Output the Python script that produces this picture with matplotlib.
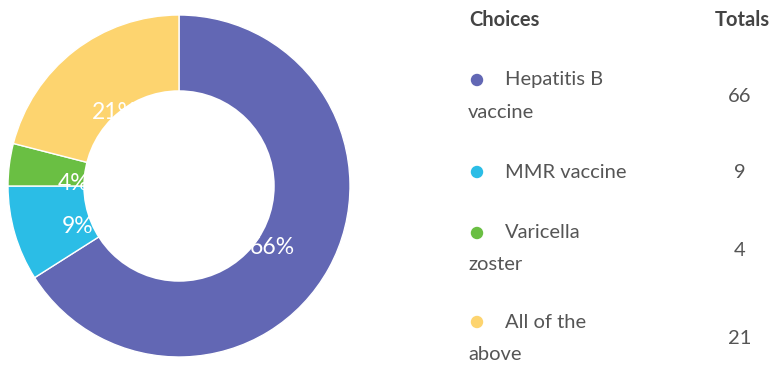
import matplotlib.pyplot as plt
from matplotlib.patches import Circle

plt.rcParams['font.family'] = ['Lato', 'DejaVu Sans']

# data
choices = ["Hepatitis B vaccine", "MMR vaccine", "Varicella zoster", "All of the above"]
choice_lines = [["Hepatitis B", "vaccine"], ["MMR vaccine"], ["Varicella", "zoster"], ["All of the", "above"]]
totals = [66, 9, 4, 21]
colors = ["#6267b4", "#2bbde6", "#6abf43", "#fdd46f"]

W, H = 772, 365
fig = plt.figure(figsize=(W / 100, H / 100), dpi=100)

# donut: centre (179,186) px, outer radius 171 px
cx, cy, r = 179, 186, 171
ax = fig.add_axes([(cx - r) / W, (H - cy - r) / H, 2 * r / W, 2 * r / H])
wedges, texts, autotexts = ax.pie(
    totals, colors=colors, startangle=90, counterclock=False,
    autopct=lambda p: "%d%%" % round(p), pctdistance=0.62,
    wedgeprops=dict(edgecolor="white", linewidth=1),
    textprops=dict(color="white", fontsize=16.5))
for t in autotexts:
    t.set_va("top")
ax.add_patch(Circle((0, 0), 0.56, facecolor="white", edgecolor="none", zorder=5))
ax.set_xlim(-1, 1)
ax.set_ylim(-1, 1)
ax.axis("off")

# legend table in pixel coordinates
lg = fig.add_axes([0, 0, 1, 1])
lg.set_xlim(0, W)
lg.set_ylim(H, 0)
lg.axis("off")
lg.patch.set_alpha(0)

fs = 14.5
head_c = "#444444"
txt_c = "#555555"
lg.text(469, 20, "Choices", fontsize=fs, fontweight="bold", color=head_c, va="center", ha="left")
lg.text(715, 20, "Totals", fontsize=fs, fontweight="bold", color=head_c, va="center", ha="left")

row_y = [97, 172, 250, 339]
for lines, tot, col, y in zip(choice_lines, totals, colors, row_y):
    if len(lines) == 2:
        y1, y2 = y - 17, y + 15
    else:
        y1 = y
    lg.scatter([477], [y1], s=80, color=col, edgecolor="none")
    lg.text(505, y1, lines[0], fontsize=fs, color=txt_c, va="center", ha="left")
    if len(lines) == 2:
        lg.text(468, y2, lines[1], fontsize=fs, color=txt_c, va="center", ha="left")
    lg.text(740, y, str(tot), fontsize=fs, color=txt_c, va="center", ha="center")

fig.savefig("out.png", dpi=100)
